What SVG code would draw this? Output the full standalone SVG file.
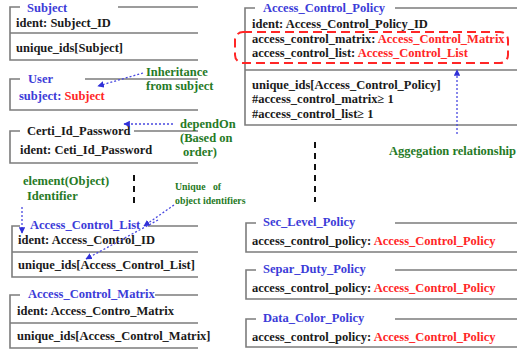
<svg xmlns="http://www.w3.org/2000/svg" width="517" height="350" viewBox="0 0 517 350">
  <style>
    text { font-family: "Liberation Serif", "Times New Roman", serif; font-weight: bold; font-size: 12.5px; }
    .t { fill: #3c3cd8; }
    .b { fill: #1a1a1a; }
    .r { fill: #ff2626; }
    .g { fill: #267a26; }
    .sm { font-size: 9.8px; }
    .frame { fill: none; stroke: #7c7c7c; stroke-width: 1.6; }
    .dot { fill: none; stroke: #4848e0; stroke-width: 1.3; stroke-dasharray: 2 2; }
    .dash { fill: none; stroke: #111; stroke-width: 2; stroke-dasharray: 6 5; }
  </style>
  <defs>
    <marker id="ah" viewBox="0 0 10 10" refX="9" refY="5" markerWidth="5" markerHeight="5" orient="auto">
      <path d="M0,0 L10,5 L0,10 z" fill="#3030d8"/>
    </marker>
  </defs>
  <rect width="517" height="350" fill="#ffffff"/>

  <!-- Left column schemas -->
  <g id="subject">
    <path class="frame" d="M20,7 H10 V60 H198 M118,7 H198 M10,33 H198"/>
    <text class="t" x="27" y="11.5">Subject</text>
    <text class="b" x="16" y="27">ident: Subject_ID</text>
    <text class="b" x="16" y="52">unique_ids[Subject]</text>
  </g>

  <g id="user">
    <path class="frame" d="M20,79 H10 V110 H198 M85,79 H198"/>
    <text class="t" x="28" y="83">User</text>
    <text x="19" y="100"><tspan class="t">subject: </tspan><tspan class="r">Subject</tspan></text>
  </g>

  <g id="certi-id-password">
    <path class="frame" d="M20,131 H10 V163 H198 M134,131 H198"/>
    <text class="b" x="27" y="135">Certi_Id_Password</text>
    <text class="b" x="20" y="154">ident: Ceti_Id_Password</text>
  </g>

  <g id="access-control-list">
    <path class="frame" d="M20,226 H12 V277 H198 M148,226 H198 M12,252 H198"/>
    <text class="t" x="30" y="229">Access_Control_List</text>
    <text class="b" x="18" y="244">ident: Access_Control_ID</text>
    <text class="b" x="18" y="269">unique_ids[Access_Control_List]</text>
  </g>

  <g id="access-control-matrix">
    <path class="frame" d="M20,295 H10 V348 H198 M155,295 H198 M10,323 H198"/>
    <text class="t" x="28" y="298">Access_Control_Matrix</text>
    <text class="b" x="17" y="315">ident: Access_Contro_Matrix</text>
    <text class="b" x="17" y="340">unique_ids[Access_Control_Matrix]</text>
  </g>

  <!-- Right column schemas -->
  <g id="access-control-policy">
    <path class="frame" d="M255,8 H245 V125 H517 M395,8 H517 M245,70 H517"/>
    <text class="t" x="263" y="12">Access_Control_Policy</text>
    <text class="b" x="252" y="28">ident: Access_Control_Policy_ID</text>
    <text x="252" y="42.5"><tspan class="b">access_control_matrix: </tspan><tspan class="r">Access_Control_Matrix</tspan></text>
    <text x="252" y="57"><tspan class="b">access_control_list: </tspan><tspan class="r">Access_Control_List</tspan></text>
    <rect x="235" y="32" width="273" height="31" rx="8" fill="none" stroke="#ff2626" stroke-width="2" stroke-dasharray="9 5"/>
    <text class="b" x="252" y="89">unique_ids[Access_Control_Policy]</text>
    <text class="b" x="252" y="103">#access_control_matrix≥ 1</text>
    <text class="b" x="252" y="118">#access_control_list≥ 1</text>
  </g>

  <g id="sec-level-policy">
    <path class="frame" d="M256,223 H246 V252 H517 M395,223 H517"/>
    <text class="t" x="263" y="226">Sec_Level_Policy</text>
    <text x="252" y="245"><tspan class="b">access_control_policy: </tspan><tspan class="r">Access_Control_Policy</tspan></text>
  </g>

  <g id="separ-duty-policy">
    <path class="frame" d="M256,270 H246 V299 H517 M395,270 H517"/>
    <text class="t" x="263" y="273">Separ_Duty_Policy</text>
    <text x="252" y="292"><tspan class="b">access_control_policy: </tspan><tspan class="r">Access_Control_Policy</tspan></text>
  </g>

  <g id="data-color-policy">
    <path class="frame" d="M256,319 H246 V347 H517 M395,319 H517"/>
    <text class="t" x="263" y="322">Data_Color_Policy</text>
    <text x="252" y="341"><tspan class="b">access_control_policy: </tspan><tspan class="r">Access_Control_Policy</tspan></text>
  </g>

  <!-- Connectors and their labels -->
  <g id="connectors">
    <line class="dot" x1="143" y1="73" x2="98" y2="86" marker-end="url(#ah)"/>
    <line class="dot" x1="173" y1="124" x2="124" y2="124" marker-end="url(#ah)"/>
    <line class="dot" x1="22" y1="207" x2="22" y2="233" marker-end="url(#ah)"/>
    <line class="dot" x1="174" y1="205" x2="144" y2="226" marker-end="url(#ah)"/>
    <line class="dot" x1="158" y1="220" x2="86" y2="259" marker-end="url(#ah)"/>
    <line class="dot" x1="457" y1="134" x2="457" y2="70" marker-end="url(#ah)"/>
    <line class="dash" x1="134" y1="175" x2="134" y2="208"/>
    <line class="dash" x1="315" y1="142" x2="315" y2="202"/>

    <text class="g" x="146" y="76">Inheritance</text>
    <text class="g" x="146" y="90">from subject</text>
    <text class="g" x="180" y="128">dependOn</text>
    <text class="g" x="180" y="142">(Based on</text>
    <text class="g" x="183" y="156">order)</text>
    <text class="g" x="23" y="185">element(Object)</text>
    <text class="g" x="27" y="200">Identifier</text>
    <text class="g sm" x="175" y="190" word-spacing="5">Unique of</text>
    <text class="g sm" x="175" y="204">object identifiers</text>
    <text class="g" x="389" y="155" textLength="127" lengthAdjust="spacingAndGlyphs">Aggegation relationship</text>
  </g>
</svg>
